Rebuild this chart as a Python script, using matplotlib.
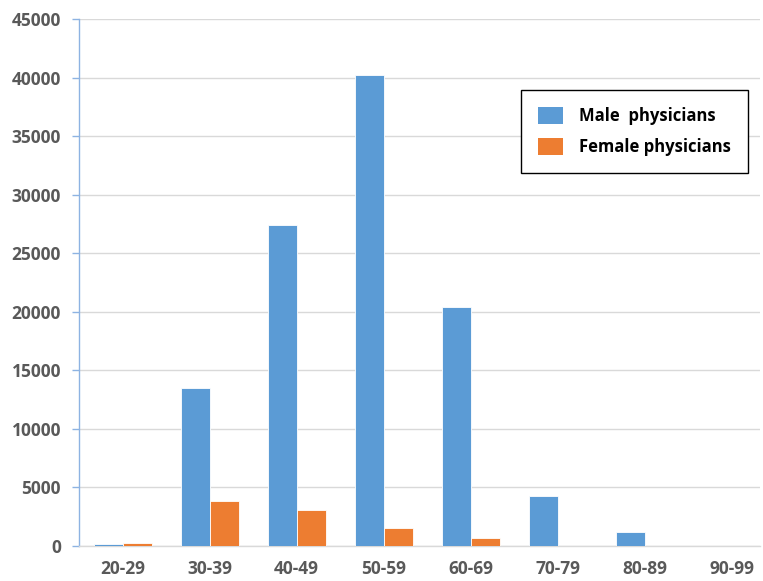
import matplotlib
matplotlib.use("Agg")
import matplotlib.pyplot as plt
from matplotlib.patches import Patch
import numpy as np

categories = ["20-29", "30-39", "40-49", "50-59", "60-69", "70-79", "80-89", "90-99"]
male = [150, 13500, 27450, 40200, 20400, 4250, 1200, 0]
female = [280, 3850, 3100, 1500, 700, 0, 0, 0]
yticks = [0, 5000, 10000, 15000, 20000, 25000, 30000, 35000, 40000, 45000]

blue = "#5B9BD5"
orange = "#ED7D31"
txt = "#595959"

plt.rcParams['font.family'] = ['Open Sans', 'DejaVu Sans']

fig = plt.figure(figsize=(7.63, 5.81), dpi=100)
W, H = 763, 581
left, right, top, bottom = 79, 760, 19, 546
ax = fig.add_axes([left / W, 1 - bottom / H, (right - left) / W, (bottom - top) / H])

x = np.arange(len(categories))
w = 1 / 3
ax.bar(x - w / 2, male, w, color=blue, edgecolor="white", linewidth=0.6, label="Male  physicians", zorder=3)
ax.bar(x + w / 2, female, w, color=orange, edgecolor="white", linewidth=0.6, label="Female physicians", zorder=3)

ax.set_xlim(-0.5, (right - left) / 87 - 0.5)
ax.set_ylim(0, 45000)
ax.set_yticks(yticks)
ax.set_yticklabels([str(v) for v in yticks])
ax.set_xticks(x)
ax.set_xticklabels(categories)

ax.grid(axis="y", color="#D9D9D9", linewidth=1, zorder=0)
ax.set_axisbelow(True)
for s in ["top", "right"]:
    ax.spines[s].set_visible(False)
ax.spines["left"].set_color("#8DB3E2")
ax.spines["left"].set_linewidth(1)
ax.spines["bottom"].set_color("#D9D9D9")
ax.spines["bottom"].set_linewidth(1)

ax.tick_params(axis="y", colors="#8DB3E2", length=5, width=1, labelcolor=txt, labelsize=12.5, pad=8)
ax.tick_params(axis="x", length=0, labelcolor=txt, labelsize=12.5, pad=10)
for lab in ax.get_xticklabels() + ax.get_yticklabels():
    lab.set_fontweight("bold")

handles = [Patch(facecolor=blue, label="Male  physicians"), Patch(facecolor=orange, label="Female physicians")]
leg = ax.legend(handles=handles, loc="upper left",
                bbox_to_anchor=((521 - left) / (right - left), 1 - (90 - top) / (bottom - top)),
                frameon=True, fancybox=False, edgecolor="black", framealpha=1,
                prop={"weight": "bold", "size": 12}, labelcolor="black",
                handlelength=1.5, handleheight=1.2, borderpad=1.0, labelspacing=0.8,
                handletextpad=1.0, borderaxespad=0)
leg.get_frame().set_linewidth(1)
leg._legend_box.align = "left"
for t in leg.get_texts():
    pass

fig.savefig("out.png", dpi=100, facecolor="white")
